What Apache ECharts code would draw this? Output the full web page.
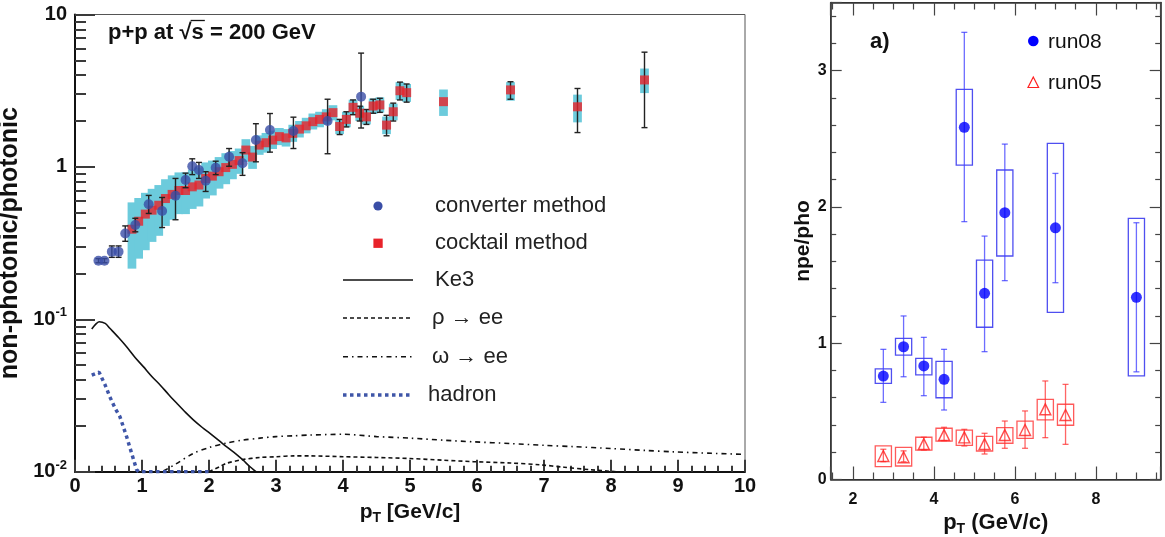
<!DOCTYPE html>
<html><head><meta charset="utf-8">
<script src="https://cdn.jsdelivr.net/npm/echarts@6/dist/echarts.min.js"></script>
<style>html,body{margin:0;padding:0;background:#fff}#c{width:1165px;height:537px}</style>
</head><body><div id="c"></div>
<script>
// ================= LEFT PANEL DATA =================
const convPt  = [0.35,0.44,0.55,0.65,0.75,0.90,1.10,1.30,1.50,1.65,1.75,1.85,1.95,2.10,2.30,2.50,2.70,2.91,3.26,3.77,4.27];
const convVal = [0.242,0.242,0.278,0.278,0.366,0.416,0.568,0.514,0.647,0.82,1.01,0.954,0.812,0.988,1.166,1.056,1.50,1.746,1.72,2.00,2.89];
const convLo  = [0.235,0.235,0.255,0.255,0.325,0.375,0.495,0.40,0.45,0.73,0.89,0.84,0.69,0.89,1.01,0.88,1.08,1.25,1.32,1.22,1.80];
const convHi  = [0.25,0.25,0.303,0.303,0.41,0.46,0.65,0.63,0.84,0.91,1.13,1.07,0.93,1.09,1.32,1.24,1.92,2.24,2.12,2.78,5.58];

const cockPt  = [0.85,0.95,1.05,1.15,1.25,1.35,1.45,1.55,1.65,1.75,1.85,1.95,
                 2.05,2.15,2.25,2.35,2.45,2.55,2.65,2.75,2.85,2.95,
                 3.05,3.15,3.25,3.35,3.45,3.55,3.65,3.75,3.85,3.95,
                 4.05,4.15,4.25,4.35,4.45,4.55,4.65,4.75,4.85,4.95,
                 5.5,6.5,7.5,8.5];
const cockVal = [0.39,0.44,0.49,0.52,0.56,0.62,0.66,0.70,0.70,0.74,0.76,0.84,
                 0.87,0.93,0.99,1.04,1.10,1.29,1.16,1.39,1.44,1.50,
                 1.58,1.55,1.66,1.77,1.86,1.98,2.05,2.13,2.27,1.84,
                 2.05,2.46,2.25,2.13,2.51,2.55,1.88,2.30,3.16,3.07,
                 2.68,3.20,2.48,3.72];
const cockSysHi = [0.585,0.625,0.676,0.718,0.76,0.83,0.88,0.92,0.92,0.96,0.99,1.07,
                   1.10,1.16,1.23,1.27,1.32,1.52,1.37,1.61,1.67,1.73,
                   1.80,1.77,1.89,2.00,2.10,2.24,2.30,2.39,2.54,2.06,
                   2.30,2.76,2.52,2.39,2.81,2.86,2.14,2.60,3.60,3.50,
                   3.22,3.60,2.98,4.42];
const cockSysLo = [0.215,0.25,0.284,0.322,0.353,0.41,0.45,0.49,0.49,0.53,0.55,0.62,
                   0.65,0.72,0.77,0.83,0.90,1.08,0.97,1.20,1.24,1.31,
                   1.39,1.36,1.46,1.56,1.66,1.76,1.82,1.90,2.02,1.64,
                   1.82,2.19,2.00,1.90,2.23,2.27,1.64,2.02,2.75,2.67,
                   2.16,2.72,1.96,3.05];
const cockErrPt = [3.95,4.05,4.15,4.25,4.35,4.45,4.55,4.65,4.75,4.85,4.95,6.5,7.5,8.5];
const cockErrLo = [1.63,1.83,2.20,2.00,1.90,2.25,2.28,1.60,2.00,2.75,2.66,2.78,1.68,1.81];
const cockErrHi = [2.05,2.30,2.75,2.50,2.38,2.78,2.82,2.18,2.62,3.60,3.50,3.62,3.27,5.66];

const ke3Pt  = [0.25,0.30,0.36,0.45,0.52,0.65,0.77,0.90,1.02,1.15,1.27,1.40,1.52,1.65,1.77,1.90,2.01,2.15,2.26,2.40,2.51,2.60,2.70];
const ke3Val = [0.0864,0.092,0.0964,0.094,0.0873,0.076,0.0661,0.056,0.0489,0.042,0.0371,0.032,0.0281,0.0245,0.0218,0.0195,0.0179,0.016,0.0146,0.0131,0.0119,0.0109,0.0100];
const rhoPt  = [2.0,2.16,2.26,2.5,2.76,3.01,3.26,3.51,4.0,4.5,5.0,5.5,5.95,6.5,6.94,7.3,7.69,8.08];
const rhoVal = [0.0100,0.0108,0.01135,0.0120,0.0124,0.01254,0.0127,0.0127,0.01254,0.0124,0.0122,0.0119,0.01163,0.0114,0.0111,0.0107,0.0103,0.0100];
const omegaPt  = [1.32,1.5,1.77,2.0,2.26,2.5,2.76,3.0,3.26,3.5,4.0,4.5,5.0,5.5,5.95,6.5,7.0,7.44,8.0,8.5,8.93,9.5,10];
const omegaVal = [0.0101,0.0112,0.0132,0.0144,0.0154,0.0161,0.0166,0.0170,0.0172,0.0174,0.0176,0.0170,0.0166,0.0161,0.0157,0.0153,0.0149,0.0146,0.0142,0.0138,0.0135,0.0132,0.0130];
const hadronPt  = [0.25,0.36,0.45,0.52,0.60,0.67,0.77,0.85,0.92,0.95,2.0];
const hadronVal = [0.043,0.045,0.037,0.031,0.026,0.023,0.017,0.013,0.0103,0.01,0.01];

// tick labels of the left panel
const leftXTickVals = [0,1,2,3,4,5,6,7,8,9,10];
const leftYTickVals = [0.01, 0.1, 1, 10];
const leftYTickText = ['{b|10}{s|-2}', '{b|10}{s|-1}', '{b|1}', '{b|10}'];

// ================= RIGHT PANEL DATA =================
const run08Pt     = [2.75,3.25,3.75,4.25,4.75,5.25,5.75,7.0,9.0];
const run08Val    = [0.759,0.974,0.833,0.735,2.584,1.366,1.958,1.847,1.337];
const run08StatLo = [0.566,0.754,0.615,0.51,1.892,0.938,1.459,1.444,0.79];
const run08StatHi = [0.955,1.20,1.043,0.955,3.281,1.786,2.461,2.246,1.884];
const run08SysLo  = [0.706,0.913,0.767,0.60,2.307,1.117,1.640,1.227,0.76];
const run08SysHi  = [0.811,1.036,0.889,0.867,2.863,1.610,2.271,2.467,1.916];
const run05Pt     = [2.75,3.25,3.75,4.25,4.75,5.25,5.75,6.25,6.75,7.25];
const run05Val    = [0.172,0.163,0.260,0.326,0.309,0.260,0.326,0.363,0.515,0.473];
const run05StatLo = [0.131,0.13,0.216,0.285,0.246,0.187,0.229,0.229,0.307,0.258];
const run05StatHi = [0.222,0.21,0.31,0.383,0.368,0.339,0.429,0.503,0.723,0.698];
const run05SysLo  = [0.094,0.099,0.216,0.282,0.251,0.209,0.266,0.302,0.437,0.398];
const run05SysHi  = [0.246,0.236,0.31,0.376,0.363,0.317,0.38,0.429,0.588,0.552];
const rightXTickVals = [2,4,6,8];
const rightYTickVals = [0,1,2,3];

// ================= HELPERS =================
const FONT = '"Liberation Sans", Arial, Helvetica, sans-serif';
const zip2 = (a,b) => a.map((v,i)=>[v,b[i]]);
const zip3 = (a,b,c) => a.map((v,i)=>[v,b[i],c[i]]);
const near = (v, list) => list.some(t => Math.abs(v - t) < 1e-6);

function errBar(color, lw, cap) {
  return function (params, api) {
    const x = api.value(0);
    const top = api.coord([x, api.value(2)]);
    const bot = api.coord([x, api.value(1)]);
    const st = {stroke: color, lineWidth: lw};
    return {type:'group', children:[
      {type:'line', shape:{x1:top[0],y1:top[1],x2:bot[0],y2:bot[1]}, style:st},
      {type:'line', shape:{x1:top[0]-cap,y1:top[1],x2:top[0]+cap,y2:top[1]}, style:st},
      {type:'line', shape:{x1:bot[0]-cap,y1:bot[1],x2:bot[0]+cap,y2:bot[1]}, style:st}
    ]};
  };
}
function boxes(halfW, fill, stroke, lw) {
  return function (params, api) {
    const x = api.value(0);
    const p1 = api.coord([x - halfW, api.value(2)]);
    const p2 = api.coord([x + halfW, api.value(1)]);
    return {type:'rect', shape:{x:p1[0], y:p1[1], width:p2[0]-p1[0], height:p2[1]-p1[1]},
            style:{fill: fill, stroke: stroke, lineWidth: lw}};
  };
}

// measure for sqrt overline in title
const TITLE_FS = 22;
const mctx = document.createElement('canvas').getContext('2d');
mctx.font = 'bold ' + TITLE_FS + 'px "Liberation Sans"';
const wPre = mctx.measureText('p+p at \u221A').width;
const wS = mctx.measureText('s').width;
const TX = 108, TY = 33;

const boldName = {fontFamily: FONT, fontWeight: 'bold', color: '#111'};
const lTick = {color: '#3a3a3a', width: 2};

const chart = echarts.init(document.getElementById('c'), null, {renderer: 'canvas'});
const option = {
  animation: false,
  backgroundColor: '#fff',
  grid: [
    {left: 75, top: 14.5, width: 670, height: 457.2, show: true, borderColor: '#555', borderWidth: 1, backgroundColor: 'transparent', outerBoundsMode: 'none', containLabel: false},
    {left: 830.7, top: 2.5, width: 330, height: 477, show: true, borderColor: '#333', borderWidth: 1.2, backgroundColor: 'transparent', outerBoundsMode: 'none', containLabel: false}
  ],
  xAxis: [
    {gridIndex: 0, type: 'value', min: 0, max: 10, interval: 1, position: 'bottom',
     axisLine: {show: true, onZero: false, lineStyle: {color: '#111', width: 2}},
     axisTick: {show: true, inside: true, length: 12, lineStyle: lTick},
     minorTick: {show: true, splitNumber: 5, length: 6, lineStyle: lTick},
     splitLine: {show: false},
     axisLabel: {fontFamily: FONT, fontWeight: 'bold', fontSize: 20, color: '#111', margin: 5,
                 formatter: v => near(v, leftXTickVals) ? String(Math.round(v)) : ''},
     name: '{p|p}{t|T}{p| [GeV/c]}', nameLocation: 'middle', nameGap: 22,
     nameTextStyle: {rich: {
       p: Object.assign({fontSize: 21, lineHeight: 26}, boldName),
       t: Object.assign({fontSize: 14, lineHeight: 14, verticalAlign: 'bottom'}, boldName)
     }}},
    {gridIndex: 1, type: 'value', min: 1.45, max: 9.6, minInterval: 2, maxInterval: 2, splitNumber: 4, position: 'bottom',
     axisLine: {onZero: false, lineStyle: {color: '#333', width: 1.5}},
     axisTick: {inside: true, length: 13, lineStyle: {color: '#444', width: 1.2}},
     minorTick: {show: true, splitNumber: 4, length: 7, lineStyle: {color: '#444', width: 1.2}},
     splitLine: {show: false},
     axisLabel: {fontFamily: FONT, fontWeight: 'bold', fontSize: 16, color: '#111', margin: 12,
                 formatter: v => near(v, rightXTickVals) ? String(Math.round(v)) : ''},
     name: '{p|p}{t|T}{p| (GeV/c)}', nameLocation: 'middle', nameGap: 26,
     nameTextStyle: {rich: {
       p: Object.assign({fontSize: 22, lineHeight: 26}, boldName),
       t: Object.assign({fontSize: 14, lineHeight: 14, verticalAlign: 'bottom'}, boldName)
     }}},
    {gridIndex: 1, type: 'value', min: 1.45, max: 9.6, minInterval: 2, maxInterval: 2, splitNumber: 4, position: 'top',
     axisLine: {onZero: false, lineStyle: {color: '#333', width: 1.5}},
     axisTick: {inside: true, length: 13, lineStyle: {color: '#444', width: 1.2}},
     minorTick: {show: true, splitNumber: 4, length: 7, lineStyle: {color: '#444', width: 1.2}},
     splitLine: {show: false}, axisLabel: {show: false}}
  ],
  yAxis: [
    {gridIndex: 0, type: 'log', logBase: 10, min: 0.01, max: 10, position: 'left',
     axisLine: {show: true, onZero: false, lineStyle: {color: '#111', width: 2}},
     axisTick: {show: true, inside: true, length: 20, lineStyle: lTick},
     minorTick: {show: true, splitNumber: 9, length: 11, lineStyle: lTick},
     splitLine: {show: false},
     axisLabel: {margin: 8, formatter: v => {
        const i = leftYTickVals.findIndex(t => Math.abs(Math.log10(v) - Math.log10(t)) < 1e-6);
        return i >= 0 ? leftYTickText[i] : '';
      }, rich: {
        b: Object.assign({fontSize: 20, lineHeight: 26}, boldName),
        s: Object.assign({fontSize: 13, lineHeight: 13, verticalAlign: 'top'}, boldName)
      }},
     name: 'non-photonic/photonic', nameLocation: 'middle', nameGap: 46,
     nameTextStyle: Object.assign({fontSize: 25}, boldName)},
    {gridIndex: 1, type: 'value', min: 0, max: 3.5, minInterval: 1, maxInterval: 1, splitNumber: 4, position: 'left',
     axisLine: {show: true, onZero: false, lineStyle: {color: '#333', width: 1.5}},
     axisTick: {show: true, inside: true, length: 11, lineStyle: {color: '#444', width: 1.2}},
     minorTick: {show: true, splitNumber: 5, length: 5.5, lineStyle: {color: '#444', width: 1.2}},
     splitLine: {show: false},
     axisLabel: {fontFamily: FONT, fontWeight: 'bold', fontSize: 16, color: '#111', margin: 4,
                 formatter: v => near(v, rightYTickVals) ? String(Math.round(v)) : ''},
     name: 'npe/pho', nameLocation: 'middle', nameGap: 13,
     nameTextStyle: Object.assign({fontSize: 21}, boldName)},
    {gridIndex: 1, type: 'value', min: 0, max: 3.5, minInterval: 1, maxInterval: 1, splitNumber: 4, position: 'right',
     axisLine: {show: true, onZero: false, lineStyle: {color: '#333', width: 1.5}},
     axisTick: {show: true, inside: true, length: 11, lineStyle: {color: '#444', width: 1.2}},
     minorTick: {show: true, splitNumber: 5, length: 5.5, lineStyle: {color: '#444', width: 1.2}},
     splitLine: {show: false}, axisLabel: {show: false}}
  ],
  series: [
    // ---- left panel ----
    {type: 'custom', name: 'cocktail sys', xAxisIndex: 0, yAxisIndex: 0, z: 1,
     renderItem: boxes(0.065, '#6ccbdc', 'none', 0),
     encode: {x: 0, y: [1, 2]}, data: zip3(cockPt, cockSysLo, cockSysHi)},
    {type: 'line', name: 'Ke3', xAxisIndex: 0, yAxisIndex: 0, z: 2, showSymbol: false, smooth: 0.3,
     lineStyle: {color: '#111', width: 1.6}, data: zip2(ke3Pt, ke3Val)},
    {type: 'line', name: 'rho', xAxisIndex: 0, yAxisIndex: 0, z: 2, showSymbol: false, smooth: 0.3,
     lineStyle: {color: '#111', width: 1.6, type: [4, 3]}, data: zip2(rhoPt, rhoVal)},
    {type: 'line', name: 'omega', xAxisIndex: 0, yAxisIndex: 0, z: 2, showSymbol: false, smooth: 0.3,
     lineStyle: {color: '#111', width: 1.6, type: [5, 4, 1.5, 4]}, data: zip2(omegaPt, omegaVal)},
    {type: 'line', name: 'hadron', xAxisIndex: 0, yAxisIndex: 0, z: 2, showSymbol: false,
     lineStyle: {color: '#3f56a8', width: 3.5, type: [3.5, 3.5], cap: 'butt'}, data: zip2(hadronPt, hadronVal)},
    {type: 'custom', name: 'cocktail stat', xAxisIndex: 0, yAxisIndex: 0, z: 3,
     renderItem: errBar('#222', 1.4, 3), encode: {x: 0, y: [1, 2]},
     data: zip3(cockErrPt, cockErrLo, cockErrHi)},
    {type: 'scatter', name: 'cocktail method', xAxisIndex: 0, yAxisIndex: 0, z: 4,
     symbol: 'rect', symbolSize: 9, itemStyle: {color: '#e8232a'}, data: zip2(cockPt, cockVal)},
    {type: 'custom', name: 'converter stat', xAxisIndex: 0, yAxisIndex: 0, z: 5,
     renderItem: errBar('#222', 1.4, 3), encode: {x: 0, y: [1, 2]},
     data: zip3(convPt, convLo, convHi)},
    {type: 'scatter', name: 'converter method', xAxisIndex: 0, yAxisIndex: 0, z: 6,
     symbol: 'circle', symbolSize: 10, itemStyle: {color: '#3a4ea6'}, data: zip2(convPt, convVal)},
    // ---- right panel ----
    {type: 'custom', name: 'run08 sys', xAxisIndex: 1, yAxisIndex: 1, z: 2,
     renderItem: boxes(0.2, 'none', 'rgba(20,20,235,0.75)', 1.3), encode: {x: 0, y: [1, 2]},
     data: zip3(run08Pt, run08SysLo, run08SysHi)},
    {type: 'custom', name: 'run05 sys', xAxisIndex: 1, yAxisIndex: 1, z: 2,
     renderItem: boxes(0.2, 'none', 'rgba(255,20,20,0.7)', 1.3), encode: {x: 0, y: [1, 2]},
     data: zip3(run05Pt, run05SysLo, run05SysHi)},
    {type: 'custom', name: 'run08 stat', xAxisIndex: 1, yAxisIndex: 1, z: 3,
     renderItem: errBar('rgba(60,60,255,0.75)', 1.3, 3), encode: {x: 0, y: [1, 2]},
     data: zip3(run08Pt, run08StatLo, run08StatHi)},
    {type: 'custom', name: 'run05 stat', xAxisIndex: 1, yAxisIndex: 1, z: 3,
     renderItem: errBar('rgba(255,50,50,0.75)', 1.3, 3), encode: {x: 0, y: [1, 2]},
     data: zip3(run05Pt, run05StatLo, run05StatHi)},
    {type: 'scatter', name: 'run08', xAxisIndex: 1, yAxisIndex: 1, z: 5,
     symbol: 'circle', symbolSize: 11, itemStyle: {color: '#0000ff'}, data: zip2(run08Pt, run08Val)},
    {type: 'scatter', name: 'run05', xAxisIndex: 1, yAxisIndex: 1, z: 5,
     symbol: 'triangle', symbolSize: 11,
     itemStyle: {color: 'rgba(0,0,0,0)', borderColor: '#ff2020', borderWidth: 1.4},
     data: zip2(run05Pt, run05Val)}
  ],
  graphic: [
    // title
    {type: 'text', x: TX, y: TY, z: 10, style: {text: 'p+p at \u221As = 200 GeV', fontFamily: FONT, fontWeight: 'bold', fontSize: TITLE_FS, fill: '#111', align: 'left', verticalAlign: 'middle'}},
    {type: 'line', z: 10, shape: {x1: TX + wPre - 1, y1: TY - 12.5, x2: TX + wPre + wS + 1, y2: TY - 12.5}, style: {stroke: '#111', lineWidth: 1.3}},
    // left legend
    {type: 'circle', z: 10, shape: {cx: 378, cy: 206, r: 4.6}, style: {fill: '#3a4ea6'}},
    {type: 'text', x: 435, y: 206, z: 10, style: {text: 'converter method', fontFamily: FONT, fontSize: 22, fill: '#222', verticalAlign: 'middle'}},
    {type: 'rect', z: 10, shape: {x: 373.4, y: 238.6, width: 9.3, height: 9.3}, style: {fill: '#e8232a'}},
    {type: 'text', x: 435, y: 243, z: 10, style: {text: 'cocktail method', fontFamily: FONT, fontSize: 22, fill: '#222', verticalAlign: 'middle'}},
    {type: 'line', z: 10, shape: {x1: 343, y1: 280, x2: 413, y2: 280}, style: {stroke: '#111', lineWidth: 1.6}},
    {type: 'text', x: 435, y: 280, z: 10, style: {text: 'Ke3', fontFamily: FONT, fontSize: 22, fill: '#222', verticalAlign: 'middle'}},
    {type: 'line', z: 10, shape: {x1: 343, y1: 318, x2: 411, y2: 318}, style: {stroke: '#111', lineWidth: 1.6, lineDash: [4, 3]}},
    {type: 'text', x: 432, y: 318, z: 10, style: {text: '\u03C1 \u2192 ee', fontFamily: FONT, fontSize: 22, fill: '#222', verticalAlign: 'middle'}},
    {type: 'line', z: 10, shape: {x1: 343, y1: 356.7, x2: 413, y2: 356.7}, style: {stroke: '#111', lineWidth: 1.6, lineDash: [5, 4, 1.5, 4]}},
    {type: 'text', x: 432, y: 356.7, z: 10, style: {text: '\u03C9 \u2192 ee', fontFamily: FONT, fontSize: 22, fill: '#222', verticalAlign: 'middle'}},
    {type: 'line', z: 10, shape: {x1: 343, y1: 395, x2: 410, y2: 395}, style: {stroke: '#3f56a8', lineWidth: 3.5, lineDash: [3.5, 3.5]}},
    {type: 'text', x: 428, y: 395, z: 10, style: {text: 'hadron', fontFamily: FONT, fontSize: 22, fill: '#222', verticalAlign: 'middle'}},
    // right legend
    {type: 'text', x: 870, y: 42, z: 10, style: {text: 'a)', fontFamily: FONT, fontWeight: 'bold', fontSize: 22, fill: '#111', verticalAlign: 'middle'}},
    {type: 'circle', z: 10, shape: {cx: 1033.3, cy: 41, r: 5.3}, style: {fill: '#0000ff'}},
    {type: 'text', x: 1048, y: 42, z: 10, style: {text: 'run08', fontFamily: FONT, fontSize: 21, fill: '#111', verticalAlign: 'middle'}},
    {type: 'polygon', z: 10, shape: {points: [[1033.3, 77], [1028, 87.5], [1038.6, 87.5]]}, style: {fill: 'none', stroke: '#ff2020', lineWidth: 1.2}},
    {type: 'text', x: 1048, y: 83, z: 10, style: {text: 'run05', fontFamily: FONT, fontSize: 21, fill: '#111', verticalAlign: 'middle'}}
  ]
};
chart.setOption(option);
</script>
</body></html>
